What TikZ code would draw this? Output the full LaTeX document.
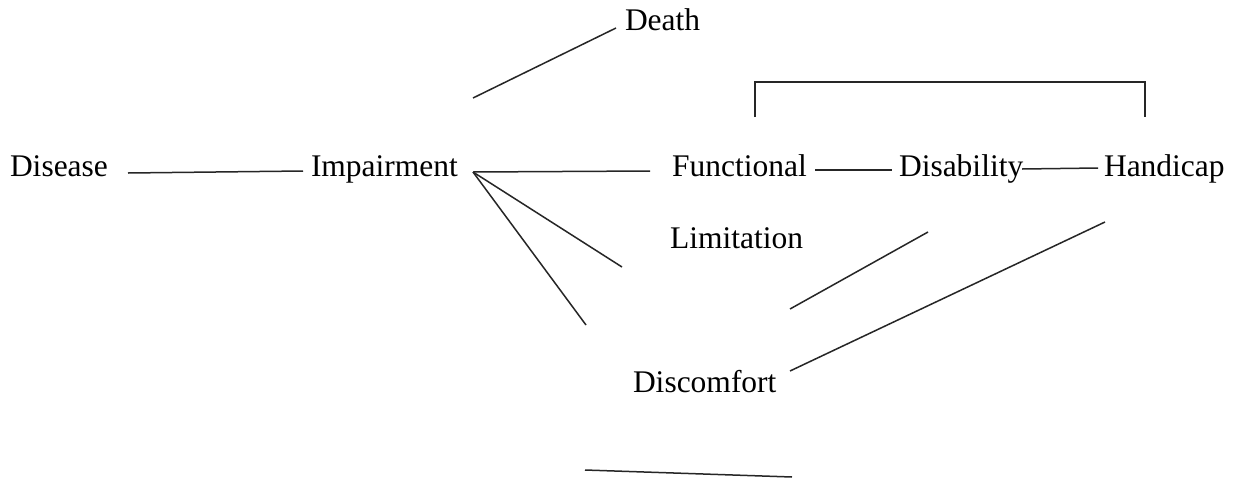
\documentclass[tikz,border=0pt]{standalone}
\usepackage{fontspec}
\setmainfont{Liberation Serif}
\begin{document}
\begin{tikzpicture}[x=1pt,y=-1pt,
  lbl/.style={anchor=base west,inner sep=0pt,outer sep=0pt,font=\fontsize{31.5}{36}\selectfont,text=black},
  ln/.style={line width=1.5pt,black!85}]
\useasboundingbox (0,0) rectangle (1235,480);
\fill[white] (0,0) rectangle (1235,480);
% labels
\node[lbl] (disease) at (10,176) {Disease};
\node[lbl] (impair) at (311,176) {Impairment};
\node[lbl] (func) at (672,176) {Functional};
\node[lbl] (disab) at (899,176) {Disability};
\node[lbl] (handi) at (1104,176) {Handicap};
\node[lbl] (limit) at (670,248) {Limitation};
\node[lbl] (discom) at (633,392) {Discomfort};
\node[lbl] (death) at (625,30) {Death};
% line end points
\coordinate (hub) at (473,172);
\coordinate (a1) at (128,173);
\coordinate (a2) at (303,171);
\coordinate (b1) at (650,171);
\coordinate (c1) at (622,267);
\coordinate (d1) at (586,325);
\coordinate (e1) at (473,98);
\coordinate (e2) at (616,28);
\coordinate (f1) at (815,170);
\coordinate (f2) at (892,170);
\coordinate (g1) at (1022,169);
\coordinate (g2) at (1098,168);
\coordinate (h1) at (755,117);
\coordinate (h2) at (1145,117);
\coordinate (i1) at (790,309);
\coordinate (i2) at (928,232);
\coordinate (j1) at (790,371);
\coordinate (j2) at (1105,222);
\coordinate (k1) at (585,470);
\coordinate (k2) at (792,477);
% connectors
\draw[ln] (a1) -- (a2);
\draw[ln] (hub) -- (b1);
\draw[ln] (hub) -- (c1);
\draw[ln] (hub) -- (d1);
\draw[ln] (e1) -- (e2);
\draw[ln] (f1) -- (f2);
\draw[ln] (g1) -- (g2);
\draw[ln] (h1) |- (1145,82) -- (h2);
\draw[ln] (i1) -- (i2);
\draw[ln] (j1) -- (j2);
\draw[ln] (k1) -- (k2);
\end{tikzpicture}
\end{document}
